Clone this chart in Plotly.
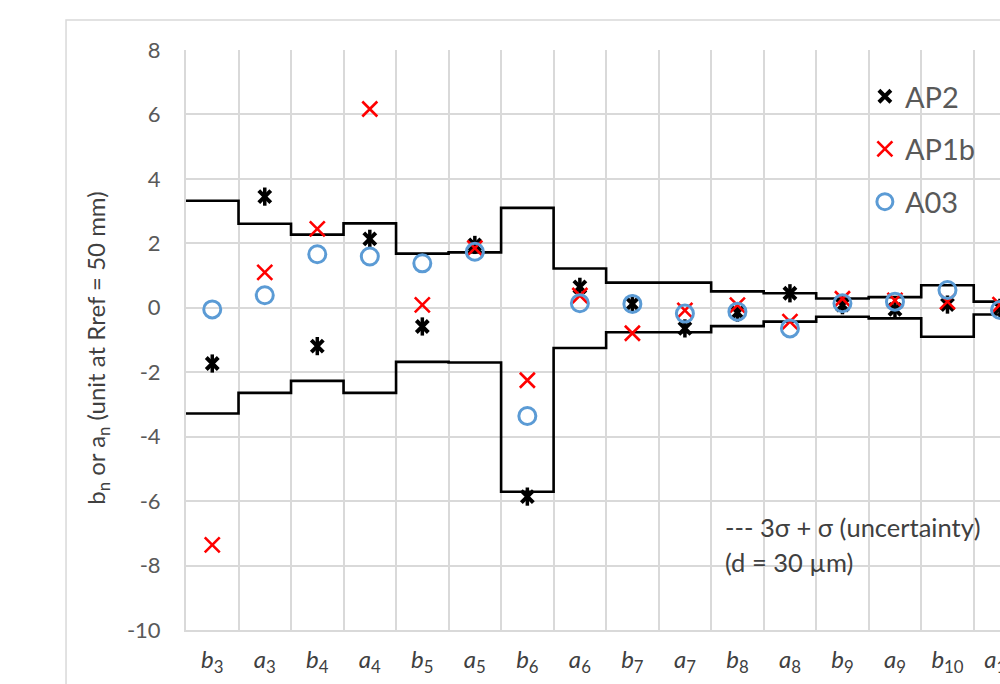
import plotly.graph_objects as go

# Multipole coefficients, in the order they appear along the axis
labels = ["b3", "a3", "b4", "a4", "b5", "a5", "b6", "a6",
          "b7", "a7", "b8", "a8", "b9", "a9", "b10", "a10"]

# Measured harmonics for the three magnets (units at Rref = 50 mm)
ap2 = [-1.73, 3.45, -1.19, 2.14, -0.58, 1.95, -5.86, 0.65,
       0.12, -0.64, -0.15, 0.45, 0.08, -0.05, 0.10, 0.00]
ap1b = [-7.36, 1.10, 2.45, 6.17, 0.09, 1.85, -2.25, 0.38,
        -0.79, -0.08, 0.08, -0.43, 0.28, 0.23, 0.19, 0.10]
a03 = [-0.05, 0.39, 1.66, 1.59, 1.38, 1.74, -3.36, 0.14,
       0.12, -0.18, -0.12, -0.64, 0.14, 0.19, 0.55, -0.07]

# 3 sigma + sigma (uncertainty) tolerance band
upper = [3.32, 2.61, 2.27, 2.62, 1.68, 1.72, 3.10, 1.22,
         0.78, 0.78, 0.51, 0.45, 0.29, 0.33, 0.70, 0.19]
lower = [-3.28, -2.64, -2.27, -2.64, -1.68, -1.70, -5.71, -1.25,
         -0.76, -0.76, -0.57, -0.43, -0.28, -0.33, -0.90, -0.21]

y_ticks = [8, 6, 4, 2, 0, -2, -4, -6, -8, -10]
y_tick_text = ["8", "6", "4", "2", "0", "-2", "-4", "-6", "-8", "-10"]

FONT = "Lato"
GRID = "#d9d9d9"

pos = list(range(len(labels)))
tick_text = [f"<i>{s[0]}</i><sub>{s[1:]}</sub>" for s in labels]

# step band: each value spans its category cell
edges = [p - 0.5 for p in pos] + [pos[-1] + 0.5]

fig = go.Figure()

for band in (upper, lower):
    fig.add_trace(go.Scatter(
        x=edges, y=band + [band[-1]], mode="lines", line_shape="hv",
        line=dict(color="black", width=2.6), showlegend=False, hoverinfo="skip",
    ))

# AP2: star marker built from an x with a vertical bar
fig.add_trace(go.Scatter(
    x=pos, y=ap2, mode="markers", name="AP2", legendgroup="ap2",
    marker=dict(symbol="x-thin-open", size=12, color="black",
                line=dict(color="black", width=4)),
))
fig.add_trace(go.Scatter(
    x=pos, y=ap2, mode="markers", name="AP2", legendgroup="ap2", showlegend=False,
    marker=dict(symbol="line-ns-open", size=13, color="black",
                line=dict(color="black", width=3.5)),
))
fig.add_trace(go.Scatter(
    x=pos, y=ap1b, mode="markers", name="AP1b", legendgroup="ap1b",
    marker=dict(symbol="x-thin-open", size=15, color="#ff0000",
                line=dict(color="#ff0000", width=2.6)),
))
fig.add_trace(go.Scatter(
    x=pos, y=a03, mode="markers", name="A03", legendgroup="a03",
    marker=dict(symbol="circle-open", size=17, color="#5b9bd5",
                line=dict(color="#5b9bd5", width=3)),
))

fig.update_layout(
    width=1000, height=684,
    margin=dict(l=186, r=0, t=50, b=54, autoexpand=False),
    paper_bgcolor="white", plot_bgcolor="white",
    font=dict(family=FONT, color="#595959"),
    legend=dict(
        x=0.834, y=0.964, xanchor="left", yanchor="top",
        font=dict(size=29, color="#595959"),
        tracegroupgap=12, bgcolor="rgba(0,0,0,0)",
    ),
    xaxis=dict(
        range=[-0.5, 15.0], tickmode="array", tickvals=pos, ticktext=tick_text,
        showgrid=False, zeroline=False, automargin=False,
        showline=True, linecolor=GRID, linewidth=2,
        ticks="", ticklabelstandoff=7, ticklabeloverflow="allow",
        tickfont=dict(size=24, color="#404040", family=FONT),
        minor=dict(tick0=-0.5, dtick=1, showgrid=True, gridcolor=GRID, gridwidth=1.5),
    ),
    yaxis=dict(
        range=[-10, 8], tickmode="array", tickvals=y_ticks, ticktext=y_tick_text,
        showgrid=True, gridcolor=GRID, gridwidth=1.5, zeroline=False, automargin=False,
        showline=True, linecolor=GRID, linewidth=2,
        ticks="", ticklabelstandoff=19,
        tickfont=dict(size=22, color="#595959", family=FONT),
    ),
    showlegend=True,
)

# outer chart frame
fig.add_shape(type="rect", xref="paper", yref="paper",
              x0=-0.1474, x1=1.2, y0=-0.3, y1=1.0517,
              line=dict(color=GRID, width=1.5), layer="below")

fig.add_annotation(
    text="b<sub>n</sub> or a<sub>n</sub> (unit at Rref = 50 mm)",
    xref="paper", yref="paper", x=-0.108, y=0.485, textangle=-90,
    xanchor="center", yanchor="middle",
    showarrow=False, font=dict(size=24, color="#404040", family=FONT),
)
fig.add_annotation(
    text="--- 3σ + σ (uncertainty)", xref="paper", yref="paper",
    x=0.66, y=(630 - 527) / 580, xanchor="left", yanchor="middle",
    showarrow=False, font=dict(size=25.5, color="#404040", family=FONT),
)
fig.add_annotation(
    text="(d = 30 µm)", xref="paper", yref="paper",
    x=0.66, y=(630 - 562) / 580, xanchor="left", yanchor="middle",
    showarrow=False, font=dict(size=25.5, color="#404040", family=FONT),
)

fig.write_html("out.html")
